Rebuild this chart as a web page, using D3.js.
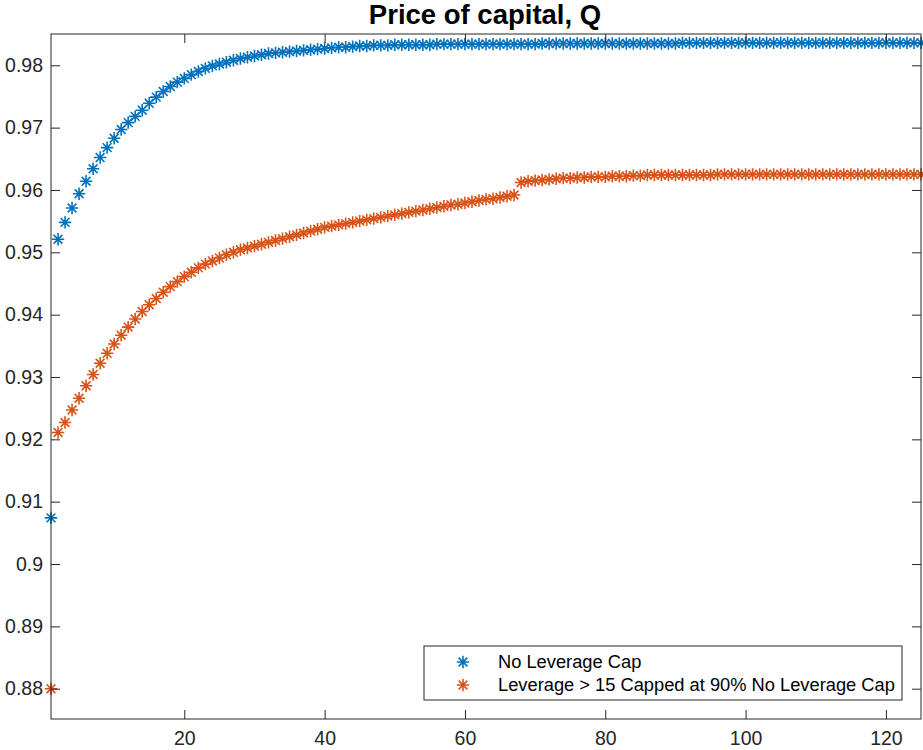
<!DOCTYPE html>
<html>
<head>
<meta charset="utf-8">
<script src="https://cdn.jsdelivr.net/npm/d3@7"></script>
<style>
  html, body { margin: 0; padding: 0; background: #fff; }
  svg { display: block; font-family: "Liberation Sans", Arial, Helvetica, sans-serif; }
</style>
</head>
<body>
<svg id="chart" width="923" height="750"></svg>
<script>
// ---- data ----
const periods = d3.range(1, 126);

const noCap = [
  0.9074, 0.9521, 0.9548, 0.9571, 0.9594, 0.9614, 0.9634, 0.9652, 0.9668, 0.9683,
  0.9697, 0.9708, 0.9718, 0.9728, 0.9739, 0.9749, 0.9758, 0.9766, 0.9773, 0.9779,
  0.9785, 0.9790, 0.9795, 0.9799, 0.9802, 0.9805, 0.9808, 0.9811, 0.9813, 0.9815,
  0.9817, 0.9819, 0.9820, 0.9821, 0.9822, 0.9823, 0.9824, 0.9825, 0.9826, 0.9827,
  0.9828, 0.9829, 0.9829, 0.9830, 0.9831, 0.9831, 0.9832, 0.9832, 0.9832, 0.9833,
  0.9833, 0.9833, 0.9833, 0.9833, 0.9833, 0.9834, 0.9834, 0.9834, 0.9834, 0.9834,
  0.9834, 0.9834, 0.9834, 0.9834, 0.9834, 0.9834, 0.9834, 0.9834, 0.9834, 0.9834,
  0.9835, 0.9835, 0.9835, 0.9835, 0.9835, 0.9835, 0.9835, 0.9835, 0.9835, 0.9835,
  0.9835, 0.9835, 0.9835, 0.9835, 0.9835, 0.9835, 0.9835, 0.9835, 0.9835, 0.9835,
  0.9836, 0.9836, 0.9836, 0.9836, 0.9836, 0.9836, 0.9836, 0.9836, 0.9836, 0.9836,
  0.9836, 0.9836, 0.9836, 0.9836, 0.9836, 0.9836, 0.9836, 0.9836, 0.9836, 0.9836,
  0.9836, 0.9836, 0.9836, 0.9836, 0.9836, 0.9836, 0.9836, 0.9836, 0.9836, 0.9836,
  0.9836, 0.9836, 0.9836, 0.9836, 0.9836
];

const capped = [
  0.8800, 0.9211, 0.9227, 0.9247, 0.9266, 0.9286, 0.9304, 0.9322, 0.9338, 0.9353,
  0.9367, 0.9380, 0.9393, 0.9405, 0.9416, 0.9426, 0.9436, 0.9445, 0.9453, 0.9461,
  0.9468, 0.9475, 0.9481, 0.9486, 0.9491, 0.9496, 0.9500, 0.9504, 0.9507, 0.9510,
  0.9513, 0.9516, 0.9519, 0.9522, 0.9525, 0.9528, 0.9531, 0.9534, 0.9537, 0.9540,
  0.9542, 0.9544, 0.9546, 0.9548, 0.9550, 0.9552, 0.9554, 0.9556, 0.9558, 0.9560,
  0.9562, 0.9564, 0.9566, 0.9568, 0.9570, 0.9572, 0.9574, 0.9576, 0.9577, 0.9579,
  0.9581, 0.9583, 0.9585, 0.9586, 0.9588, 0.9590, 0.9592, 0.9612, 0.9614, 0.9615,
  0.9616, 0.9617, 0.9618, 0.9619, 0.9619, 0.9620, 0.9620, 0.9621, 0.9621, 0.9621,
  0.9622, 0.9622, 0.9622, 0.9623, 0.9623, 0.9624, 0.9624, 0.9624, 0.9624, 0.9624,
  0.9624, 0.9624, 0.9624, 0.9624, 0.9624, 0.9625, 0.9625, 0.9625, 0.9625, 0.9625,
  0.9625, 0.9625, 0.9625, 0.9625, 0.9625, 0.9625, 0.9625, 0.9625, 0.9625, 0.9625,
  0.9625, 0.9625, 0.9625, 0.9625, 0.9625, 0.9625, 0.9625, 0.9625, 0.9625, 0.9625,
  0.9625, 0.9625, 0.9625, 0.9625, 0.9625
];

const seriesNames = ["No Leverage Cap", "Leverage > 15 Capped at 90% No Leverage Cap"];
const seriesColors = ["#0072BD", "#D95319"];

const xTicks = [20, 40, 60, 80, 100, 120];
const xTickLabels = ["20", "40", "60", "80", "100", "120"];
const yTicks = [0.88, 0.89, 0.90, 0.91, 0.92, 0.93, 0.94, 0.95, 0.96, 0.97, 0.98];
const yTickLabels = ["0.88", "0.89", "0.9", "0.91", "0.92", "0.93", "0.94", "0.95", "0.96", "0.97", "0.98"];
const titleText = "Price of capital, Q";

// ---- layout ----
const plotL = 51, plotR = 921, plotT = 34, plotB = 719;
const axisColor = "#262626";

const x = d3.scaleLinear().domain([1, 125]).range([plotL, plotR]);
const y = d3.scaleLinear().domain([0.87514, 0.98502]).range([plotB, plotT]);

const svg = d3.select("#chart");

svg.append("rect")
  .attr("x", plotL).attr("y", plotT)
  .attr("width", plotR - plotL).attr("height", plotB - plotT)
  .attr("fill", "#fff");

// markers
const r = 6.2, dg = r * 0.7071;
const asterisk = `M${-r},0L${r},0M0,${-r}L0,${r}M${-dg},${-dg}L${dg},${dg}M${-dg},${dg}L${dg},${-dg}`;

const data = [noCap, capped];
data.forEach((vals, si) => {
  svg.append("g")
    .selectAll("path")
    .data(periods.map((p, i) => ({ p, v: vals[i] })))
    .join("path")
    .attr("d", asterisk)
    .attr("transform", d => `translate(${x(d.p)},${y(d.v)})`)
    .attr("fill", "none")
    .attr("stroke", seriesColors[si])
    .attr("stroke-width", 1.6);
});

// axes
const fmtX = (d) => xTickLabels[xTicks.indexOf(d)];
const fmtY = (d) => yTickLabels[yTicks.indexOf(d)];

const gx = svg.append("g").attr("transform", `translate(0,${plotB})`)
  .call(d3.axisBottom(x).tickValues(xTicks).tickFormat(fmtX)
    .tickSizeInner(-9).tickSizeOuter(0).tickPadding(12));
const gxTop = svg.append("g").attr("transform", `translate(0,${plotT})`)
  .call(d3.axisTop(x).tickValues(xTicks).tickFormat("")
    .tickSizeInner(-9).tickSizeOuter(0));
const gy = svg.append("g").attr("transform", `translate(${plotL},0)`)
  .call(d3.axisLeft(y).tickValues(yTicks).tickFormat(fmtY)
    .tickSizeInner(-9).tickSizeOuter(0).tickPadding(8));
const gyRight = svg.append("g").attr("transform", `translate(${plotR},0)`)
  .call(d3.axisRight(y).tickValues(yTicks).tickFormat("")
    .tickSizeInner(-9).tickSizeOuter(0));

[gx, gxTop, gy, gyRight].forEach(g => {
  g.select(".domain").remove();
  g.selectAll("line").attr("stroke", axisColor).attr("stroke-width", 1);
  g.selectAll("text").attr("fill", axisColor)
    .style("font-size", "19.5px")
    .style("font-family", '"Liberation Sans", Arial, Helvetica, sans-serif');
});

svg.append("rect")
  .attr("x", plotL).attr("y", plotT)
  .attr("width", plotR - plotL).attr("height", plotB - plotT)
  .attr("fill", "none").attr("stroke", axisColor).attr("stroke-width", 1);

// title
svg.append("text")
  .attr("x", (plotL + plotR) / 2 - 1).attr("y", 23.5)
  .attr("text-anchor", "middle")
  .attr("fill", "#000")
  .style("font-size", "27.5px").style("font-weight", "bold")
  .text(titleText);

// legend
const lg = svg.append("g");
lg.append("rect")
  .attr("x", 424).attr("y", 646).attr("width", 478).attr("height", 54)
  .attr("fill", "#fff").attr("stroke", axisColor).attr("stroke-width", 1);
seriesNames.forEach((name, i) => {
  const cy = 662 + i * 23;
  lg.append("path").attr("d", asterisk)
    .attr("transform", `translate(463,${cy})`)
    .attr("fill", "none").attr("stroke", seriesColors[i]).attr("stroke-width", 1.6);
  lg.append("text")
    .attr("x", 498).attr("y", cy + 5.5)
    .attr("fill", "#000")
    .style("font-size", "18.3px")
    .text(name);
});
</script>
</body>
</html>
